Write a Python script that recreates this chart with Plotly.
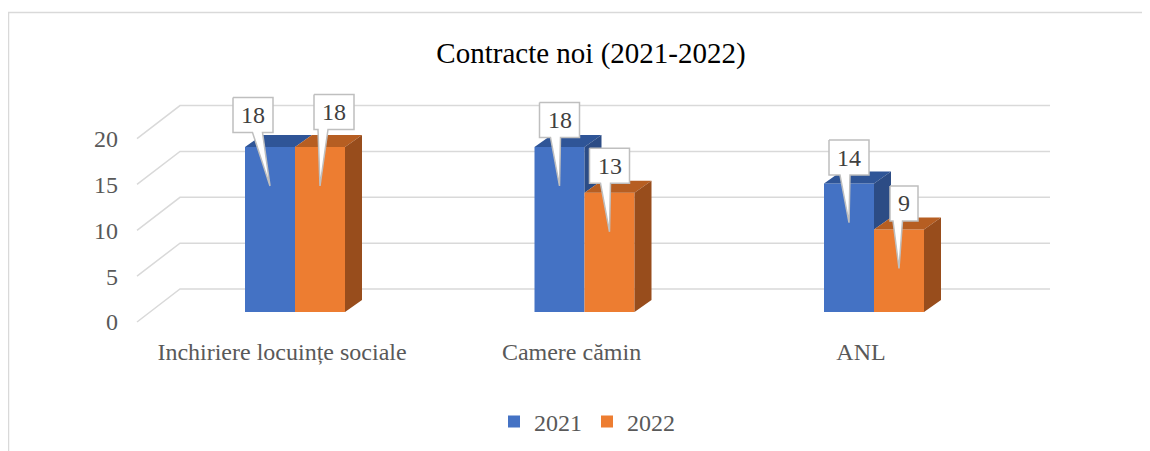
import plotly.graph_objects as go

# ---------------- data ----------------
categories = ["Inchiriere locuințe sociale", "Camere cămin", "ANL"]
series_names = ["2021", "2022"]
values_2021 = [18, 18, 14]
values_2022 = [18, 13, 9]
y_ticks = [0, 5, 10, 15, 20]
title_text = "Contracte noi (2021-2022)"

# ---------------- geometry / styles (screen pixels) ----------------
SX, SY = 8, 8                 # page body margin: figure origin on screen
W, H = 1150 - SX, 451 - SY
PX_X = 289.5                  # px per category step
PX_Y = 9.17                   # px per value unit
X0 = 295.0                    # screen px of category 0 (front centre of the group)
Y0 = 312.0                    # screen px of value 0 on the bars' front plane
PLOT_L, PLOT_R, PLOT_T, PLOT_B = 125, 1060, 80, 335   # screen px

BAR_W = 50 / PX_X
DDX, DDY = 17 / PX_X, 12 / PX_Y   # bar depth projection
GRID_FRONT_X, GRID_BACK_X, GRID_END_X = 137, 180, 1050
GRID_FRONT_DY, GRID_BACK_DY = 10, -23   # px offset (down positive) from bar plane
LABEL_DX = [[-17, 14], [0, 0], [0, 5]]     # callout box horizontal shift, px
LABEL_UP = [[32, 35], [27, 27], [26, 26]]  # callout box centre above bar top, px
TIP_DOWN = 39
BOX_H = 35

FONT = "Liberation Serif, Times New Roman, serif"
BLUE, BLUE_TOP, BLUE_SIDE = "#4472C4", "#2F5597", "#2C4C85"
ORANGE, ORANGE_TOP, ORANGE_SIDE = "#ED7D31", "#B65E22", "#984D1C"
GRID = "#D9D9D9"
TEXT = "#595959"


def ux(px):
    return (px - X0) / PX_X


def uy_off(px_down):
    return -px_down / PX_Y


fig = go.Figure()

# front faces (real bars)
fig.add_trace(go.Bar(x=list(range(len(categories))), y=values_2021, name=series_names[0],
                     width=BAR_W, offset=-BAR_W, marker=dict(color=BLUE, line=dict(width=0)),
                     hoverinfo="skip"))
fig.add_trace(go.Bar(x=list(range(len(categories))), y=values_2022, name=series_names[1],
                     width=BAR_W, offset=0, marker=dict(color=ORANGE, line=dict(width=0)),
                     hoverinfo="skip"))


def poly_trace(xs, ys, color):
    return go.Scatter(x=xs, y=ys, mode="lines", fill="toself", fillcolor=color,
                      line=dict(width=0, color=color), showlegend=False, hoverinfo="skip")


# 3D faces
bt_x, bt_y, bs_x, bs_y, ot_x, ot_y, os_x, os_y = [], [], [], [], [], [], [], []
for i, (vb, vo) in enumerate(zip(values_2021, values_2022)):
    xl, xm, xr = i - BAR_W, i, i + BAR_W
    bt_x += [xl, xm, xm + DDX, xl + DDX, xl, None]
    bt_y += [vb, vb, vb + DDY, vb + DDY, vb, None]
    if vb > vo:
        bs_x += [xm, xm, xm + DDX, xm + DDX, xm, None]
        bs_y += [vo, vb, vb + DDY, vo + DDY, vo, None]
    ot_x += [xm, xr, xr + DDX, xm + DDX, xm, None]
    ot_y += [vo, vo, vo + DDY, vo + DDY, vo, None]
    os_x += [xr, xr + DDX, xr + DDX, xr, xr, None]
    os_y += [0, DDY, vo + DDY, vo, 0, None]

fig.add_trace(poly_trace(bt_x, bt_y, BLUE_TOP))
fig.add_trace(poly_trace(bs_x, bs_y, BLUE_SIDE))
fig.add_trace(poly_trace(ot_x, ot_y, ORANGE_TOP))
fig.add_trace(poly_trace(os_x, os_y, ORANGE_SIDE))

# callouts (data labels)
annotations = []
for s, vals in enumerate([values_2021, values_2022]):
    for i, v in enumerate(vals):
        bar_cx = i + (-BAR_W / 2 if s == 0 else BAR_W / 2)
        txt = str(v)
        bw_px = 16 + 12 * len(txt)
        cx = bar_cx + LABEL_DX[i][s] / PX_X
        cy = v + LABEL_UP[i][s] / PX_Y
        hx, hy = bw_px / 2 / PX_X, BOX_H / 2 / PX_Y
        tip_x, tip_y = bar_cx, v - TIP_DOWN / PX_Y
        base_c = (tip_x + cx) / 2 - 4 / PX_X
        b_l, b_r = base_c - 5 / PX_X, base_c + 5 / PX_X
        b_l = max(b_l, cx - hx + 3 / PX_X)
        b_r = min(b_r, cx + hx - 3 / PX_X)
        bottom = cy - hy
        xs = [cx - hx, cx + hx, cx + hx, b_r, tip_x, b_l, cx - hx, cx - hx]
        ys = [cy + hy, cy + hy, bottom, bottom, tip_y, bottom, bottom, cy + hy]
        fig.add_trace(go.Scatter(x=xs, y=ys, mode="lines", fill="toself", fillcolor="white",
                                 line=dict(color="#BFBFBF", width=1.5), showlegend=False,
                                 hoverinfo="skip"))
        annotations.append(dict(x=cx, y=cy, xref="x", yref="y", text=txt, showarrow=False,
                                font=dict(family=FONT, size=24, color="#404040"),
                                xanchor="center", yanchor="middle"))

# gridlines with 3D floor diagonals
shapes = []
for t in y_ticks:
    yf = t + uy_off(GRID_FRONT_DY)
    yb = t + uy_off(GRID_BACK_DY)
    path = f"M {ux(GRID_FRONT_X)},{yf} L {ux(GRID_BACK_X)},{yb} L {ux(GRID_END_X)},{yb}"
    shapes.append(dict(type="path", path=path, xref="x", yref="y", layer="below",
                       line=dict(color=GRID, width=1.5)))

# chart border (only top and left edges are inside the picture)
PW, PH = PLOT_R - PLOT_L, PLOT_B - PLOT_T
bx0, bx1 = (8.5 - PLOT_L) / PW, (1200 - PLOT_L) / PW
by0, by1 = (PLOT_B - 500) / PH, (PLOT_B - 12.5) / PH
shapes.append(dict(type="path", xref="paper", yref="paper",
                   path=f"M {bx1},{by1} L {bx0},{by1} L {bx0},{by0}",
                   line=dict(color=GRID, width=1.5), layer="below"))

fig.update_layout(
    width=W, height=H,
    margin=dict(l=PLOT_L - SX, r=(SX + W) - PLOT_R, t=PLOT_T - SY, b=(SY + H) - PLOT_B),
    paper_bgcolor="white", plot_bgcolor="white",
    barmode="overlay",
    title=dict(text=title_text, x=(591 - PLOT_L) / PW, xref="paper", xanchor="center",
               y=1 - (53 - SY) / H, yref="container", yanchor="middle",
               font=dict(family=FONT, size=29, color="#000000")),
    xaxis=dict(range=[ux(PLOT_L), ux(PLOT_R)], showgrid=False, zeroline=False, showline=False,
               tickvals=[i + ux(X0 - 13) for i in range(len(categories))], ticktext=categories,
               ticks="", tickfont=dict(family=FONT, size=24, color=TEXT)),
    yaxis=dict(range=[(Y0 - PLOT_B) / PX_Y, (Y0 - PLOT_T) / PX_Y], showgrid=False,
               zeroline=False, showline=False,
               tickvals=[t + uy_off(GRID_FRONT_DY) for t in y_ticks],
               ticktext=[str(t) for t in y_ticks], ticks="", ticklabelstandoff=6,
               tickfont=dict(family=FONT, size=24, color=TEXT)),
    legend=dict(orientation="h", x=(587 - PLOT_L) / PW, xanchor="center",
                y=1 - (422 - SY) / H, yref="container", yanchor="middle",
                font=dict(family=FONT, size=24, color=TEXT), itemclick=False),
    shapes=shapes, annotations=annotations,
)

fig.write_html("out.html", config={"displayModeBar": False})
